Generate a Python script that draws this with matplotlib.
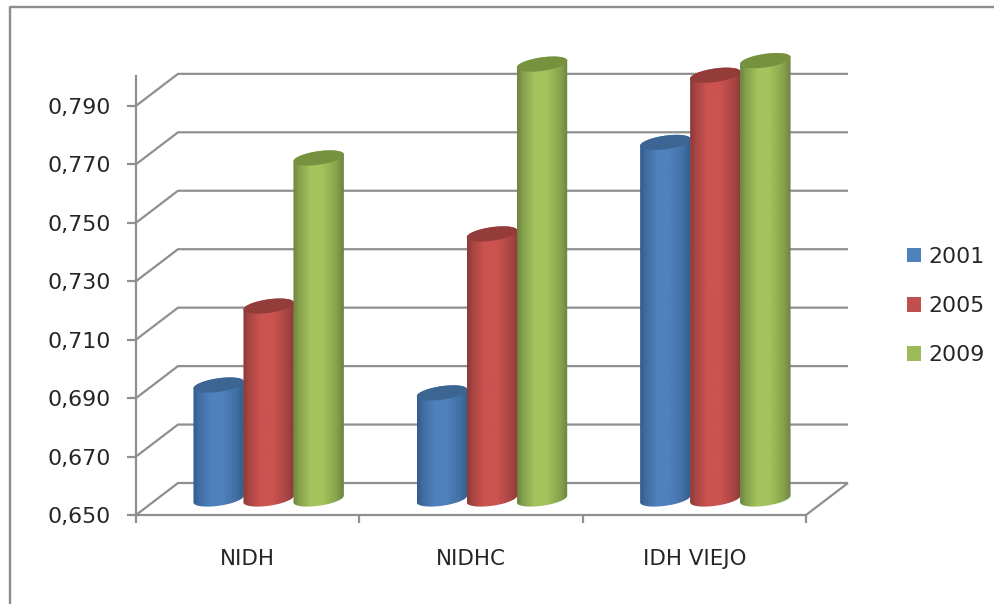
import numpy as np
import matplotlib
matplotlib.use("Agg")
import matplotlib.pyplot as plt
from matplotlib.lines import Line2D
from matplotlib.patches import PathPatch, Patch
from matplotlib.path import Path

categories = ["NIDH", "NIDHC", "IDH VIEJO"]
years = ["2001", "2005", "2009"]
v2001 = [0.689, 0.6863, 0.772]
v2005 = [0.716, 0.7407, 0.795]
v2009 = [0.7667, 0.7988, 0.800]
yticks = [0.65, 0.67, 0.69, 0.71, 0.73, 0.75, 0.77, 0.79]

W, H = 995, 604
L, R, B, T = 136, 806, 515, 76
PX_PER_STEP = 58.45
GRID = "#8f8f8f"
TXT = "#262626"
LW = 1.6
plt.rcParams["font.family"] = "DejaVu Sans"

fig = plt.figure(figsize=(W / 100, H / 100), dpi=100, facecolor="white")
ax = fig.add_axes([L / W, 1 - B / H, (R - L) / W, (B - T) / H])
ax.set_xlim(0, 3)
ax.set_ylim(0.65, 0.65 + (B - T) / PX_PER_STEP * 0.02)
ax.patch.set_visible(False)

px_x = 3 / (R - L)               # data units per pixel
px_y = 0.02 / PX_PER_STEP
DX, DY = 42 * px_x, 32 * px_y    # depth offset

# walls
gkw = dict(color=GRID, lw=LW, clip_on=False, zorder=1, solid_capstyle="butt")
for t in yticks:
    ax.plot([0, DX, 3 + DX], [t, t + DY, t + DY], **gkw)
ax.plot([3, 3 + DX], [0.65, 0.65 + DY], **gkw)

for s in ("top", "right"):
    ax.spines[s].set_visible(False)
for s in ("left", "bottom"):
    ax.spines[s].set_color(GRID)
    ax.spines[s].set_linewidth(LW)
    ax.spines[s].set_zorder(1)
ax.set_yticks(yticks)
ax.set_yticklabels([f"{t:.3f}".replace(".", ",") for t in yticks], fontsize=15.9, color=TXT)
ax.tick_params(axis="y", length=6.5, width=LW, color=GRID, pad=11.5)
ax.set_xticks([0, 1, 2, 3])
ax.set_xticklabels([])
ax.tick_params(axis="x", length=6, width=LW, color=GRID)
ax.set_xticks([0.5, 1.5, 2.5], labels=categories, minor=True)
ax.tick_params(axis="x", which="minor", length=0, pad=24.5, labelsize=15.4, labelcolor=TXT)

# cylinders
palette = [
    ("#345c8c", "#4f81bd", "#3c6594", "#4f81bd"),
    ("#8c3a38", "#cb5350", "#933c3a", "#c0504d"),
    ("#6c8340", "#a3c45c", "#77923f", "#9bbb59"),
]
A, Bb, K = 25.2 * px_x, 6.8 * px_y, 3.4 * px_y
WBAR = 50 * px_x
tt = np.linspace(0, 1, 128)
prof = np.interp(tt, [0, .1, .34, .58, .85, 1], [1, .6, 0, 0, .5, 1])


def rgb(h):
    return np.array(matplotlib.colors.to_rgb(h))


for gi, (vals, pal) in enumerate(zip((v2001, v2005, v2009), palette)):
    dark, mid, top, flat = pal
    grad = (rgb(mid)[None, :] * (1 - prof[:, None]) + rgb(dark)[None, :] * prof[:, None])[None, :, :]
    for ci, v in enumerate(vals):
        cx = ci + 0.5 + DX / 2 + (gi - 1) * WBAR
        y0, y1 = 0.65 + DY / 2, v + DY / 2
        u = np.linspace(np.pi, 2 * np.pi, 40)     # lower half of base ellipse
        w = np.linspace(0, np.pi, 40)             # upper half of top ellipse
        xs = np.r_[cx + A * np.cos(u), cx + A * np.cos(w)]
        ys = np.r_[y0 + Bb * np.sin(u) + K * np.cos(u), y1 + Bb * np.sin(w) + K * np.cos(w)]
        body = PathPatch(Path(np.c_[xs, ys]), fc="none", ec="none", transform=ax.transData, zorder=2 + gi)
        ax.add_patch(body)
        body.set_clip_on(False)
        im = ax.imshow(grad, extent=(cx - A, cx + A, y0 - 2 * Bb, y1 + 2 * Bb), aspect="auto",
                       zorder=2 + gi, interpolation="bilinear")
        im.set_clip_box(fig.bbox)
        im.set_clip_path(body)
        e = np.linspace(0, 2 * np.pi, 80)
        ax.fill(cx + A * np.cos(e), y1 + Bb * np.sin(e) + K * np.cos(e), fc=top, ec="none",
                clip_on=False, zorder=2 + gi)
ax.set_xlim(0, 3)
ax.set_ylim(0.65, 0.65 + (B - T) / PX_PER_STEP * 0.02)

# legend
handles = [Patch(fc=p[3], ec="none") for p in palette]
fig.legend(handles, years, loc="center left", bbox_to_anchor=(900 / W, 1 - 306 / H), frameon=False,
           fontsize=15.8, labelcolor=TXT, handlelength=0.64, handleheight=0.64,
           handletextpad=0.36, labelspacing=1.33, borderpad=0.3, borderaxespad=0)

# outer frame
fig.add_artist(Line2D([9.5 / W, 9.5 / W, 1], [0, 1 - 7 / H, 1 - 7 / H], color="#8c8c8c", lw=1.7))

fig.savefig("out.png", dpi=100)
